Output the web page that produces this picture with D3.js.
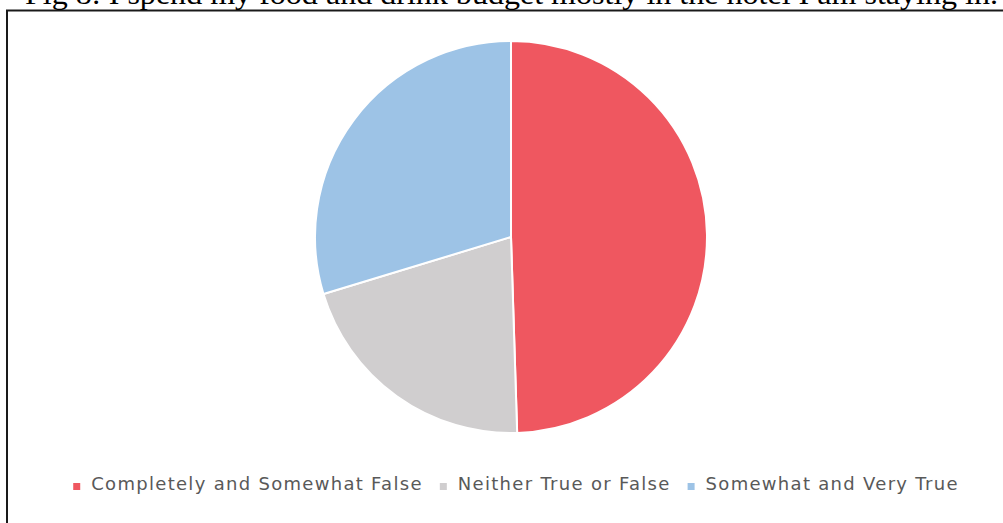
<!DOCTYPE html>
<html>
<head>
<meta charset="utf-8">
<script src="https://cdn.jsdelivr.net/npm/d3@7"></script>
<style>
  html, body { margin: 0; padding: 0; background: #fff; overflow: hidden; }
  svg { display: block; }
</style>
</head>
<body>
<svg id="chart" width="1003" height="523"></svg>
<script>
const title = "Fig 8: I spend my food and drink budget mostly in the hotel I am staying in.";
const categories = ["Completely and Somewhat False", "Neither True or False", "Somewhat and Very True"];
const values = [49.5, 20.8, 29.7];
const colors = ["#EF5760", "#D0CECF", "#9DC3E6"];

const svg = d3.select("#chart");
const W = 1003, H = 523;

// frame
svg.append("rect")
  .attr("x", 7).attr("y", 10.5)
  .attr("width", W + 10).attr("height", H + 10)
  .attr("fill", "#fff")
  .attr("stroke", "#1a1a1a").attr("stroke-width", 2);

// title (clipped at top as in reference)
svg.append("text")
  .attr("x", 25).attr("y", 3.5)
  .attr("font-family", "Liberation Serif, Times New Roman, serif")
  .attr("font-size", 30)
  .attr("textLength", 973)
  .attr("lengthAdjust", "spacingAndGlyphs")
  .attr("fill", "#000")
  .text(title);

const data = categories.map((c, i) => ({ cat: c, value: values[i], color: colors[i] }));

const cx = 511, cy = 237, r = 196;
const pie = d3.pie().sort(null).value(d => d.value);
const arc = d3.arc().innerRadius(0).outerRadius(r);

svg.append("g")
  .attr("transform", `translate(${cx},${cy})`)
  .selectAll("path")
  .data(pie(data))
  .join("path")
  .attr("d", arc)
  .attr("fill", d => d.data.color)
  .attr("stroke", "#fff")
  .attr("stroke-width", 2)
  .attr("stroke-linejoin", "round");

// legend
const legend = svg.append("g");
const fs = 18;
const items = legend.selectAll("g")
  .data(data)
  .join("g");
items.append("rect")
  .attr("width", 7).attr("height", 7)
  .attr("y", -7)
  .attr("fill", d => d.color);
items.append("text")
  .attr("x", 18)
  .attr("y", 0)
  .attr("font-family", "DejaVu Sans, sans-serif")
  .attr("font-size", fs)
  .attr("letter-spacing", 1.3)
  .attr("fill", "#595959")
  .text(d => d.cat);

const gap = 17;
const widths = [];
items.each(function() {
  const t = d3.select(this).select("text").node();
  widths.push(18 + t.getComputedTextLength());
});
const total = d3.sum(widths) + gap * (widths.length - 1);
let start = 516 - total / 2;
items.attr("transform", (d, i) => {
  const tx = start;
  start += widths[i] + gap;
  return `translate(${tx},${490})`;
});
</script>
</body>
</html>
